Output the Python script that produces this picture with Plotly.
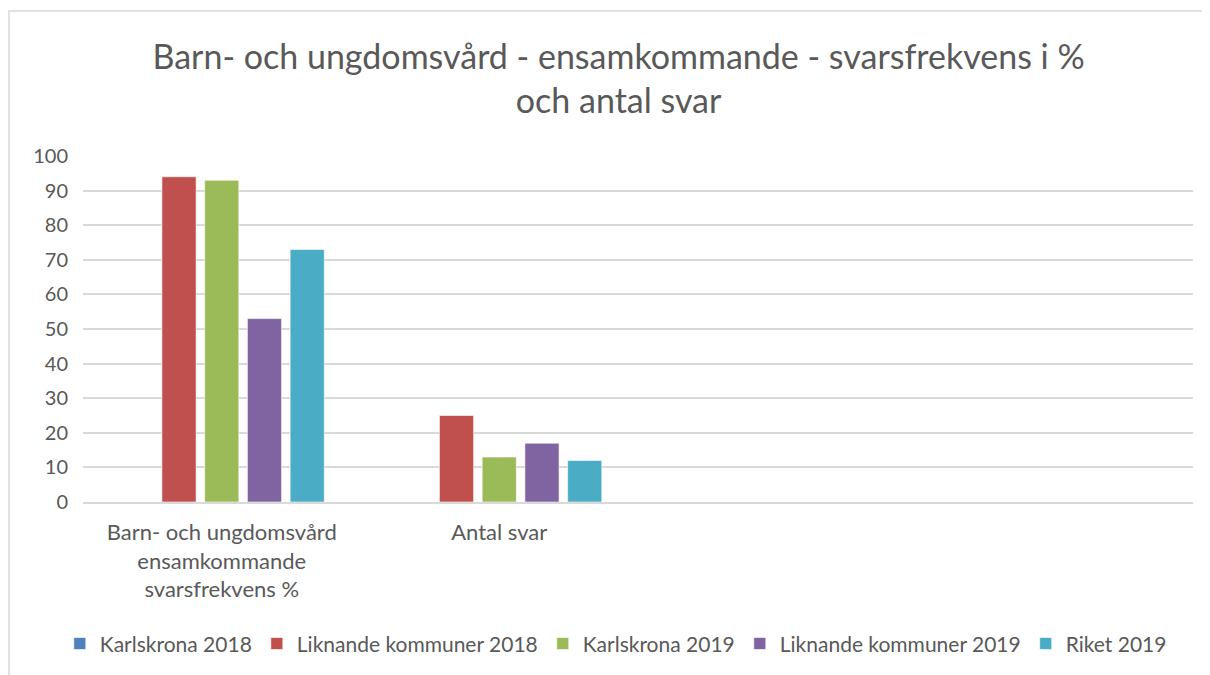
import plotly.graph_objects as go

categories = ["Barn- och ungdomsvård<br>ensamkommande<br>svarsfrekvens %", "Antal svar", " ", "  "]
series_names = ["Karlskrona 2018", "Liknande kommuner 2018", "Karlskrona 2019",
                "Liknande kommuner 2019", "Riket 2019"]
karlskrona_2018 = [None, None, None, None]
liknande_2018 = [94, 25, None, None]
karlskrona_2019 = [93, 13, None, None]
liknande_2019 = [53, 17, None, None]
riket_2019 = [73, 12, None, None]
y_ticks = [0, 10, 20, 30, 40, 50, 60, 70, 80, 90, 100]

colors = ["#4F81BD", "#C0504D", "#9BBB59", "#8064A2", "#4BACC6"]
values = [karlskrona_2018, liknande_2018, karlskrona_2019, liknande_2019, riket_2019]

fig = go.Figure()
for name, vals, col in zip(series_names, values, colors):
    fig.add_trace(go.Bar(
        x=categories, y=vals, name=name,
        marker=dict(color=col, line=dict(color="rgba(255,255,255,0.6)", width=1)),
    ))

font_family = "Lato, 'Open Sans', sans-serif"
# The page body has an 8px margin, so the figure is sized/margined to compensate.
fig.update_layout(
    width=1202, height=667,
    paper_bgcolor="white", plot_bgcolor="white",
    margin=dict(l=75, r=17, t=148, b=173, autoexpand=False),
    barmode="group", bargap=0.23, bargroupgap=0.2,
    title=dict(
        text="Barn- och ungdomsvård - ensamkommande - svarsfrekvens i %<br>och antal svar",
        x=0.508, xanchor="center", yref="container", y=0.9085, yanchor="middle",
        font=dict(family=font_family, size=34, color="#595959"),
    ),
    font=dict(family=font_family, color="#595959", size=20),
    legend=dict(
        orientation="h", x=0.48, xanchor="center", y=-0.41, yanchor="middle",
        font=dict(size=21, color="#595959"), itemwidth=30, traceorder="normal",
    ),
    xaxis=dict(
        showgrid=False, showline=True, linecolor="#D9D9D9", linewidth=1.5,
        tickfont=dict(size=22, color="#595959"), ticks="", zeroline=False,
        ticklabelstandoff=10,
    ),
    yaxis=dict(
        range=[0, 100], tickvals=y_ticks, showgrid=True, gridcolor="#D9D9D9",
        gridwidth=1.5, zeroline=False, showline=False,
        tickfont=dict(size=20, color="#595959"), ticks="", ticklen=0,
        ticklabelstandoff=14,
    ),
    shapes=[dict(type="rect", xref="paper", yref="paper",
                 x0=-0.0667, x1=1.05, y0=-0.6, y1=1.419,
                 line=dict(color="#D9D9D9", width=1.5), fillcolor="rgba(0,0,0,0)", layer="below")],
)

fig.write_html("out.html")
